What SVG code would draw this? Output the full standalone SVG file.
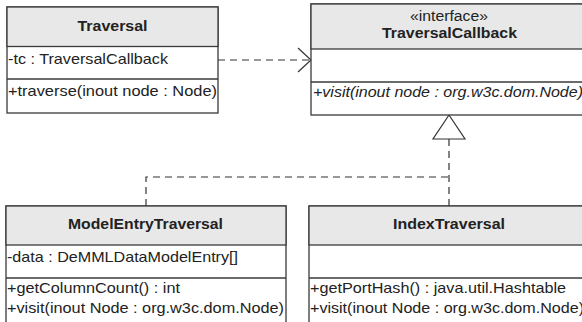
<svg xmlns="http://www.w3.org/2000/svg" width="582" height="322" viewBox="0 0 582 322">
  <style>
    .box { fill: #ffffff; stroke: #3a3a3a; stroke-width: 1.3; }
    .head { fill: #e8e8e8; stroke: #3a3a3a; stroke-width: 1.3; }
    .sep { stroke: #3a3a3a; stroke-width: 1.3; }
    .title { font-family: "Liberation Sans", Arial, sans-serif; font-size: 15px; font-weight: bold; fill: #222; text-anchor: middle; }
    .stereo { font-family: "Liberation Sans", Arial, sans-serif; font-size: 14px; fill: #222; text-anchor: middle; }
    .member { font-family: "Liberation Sans", Arial, sans-serif; font-size: 15px; fill: #222; }
    .abstract { font-style: italic; }
    .dash { fill: none; stroke: #333; stroke-width: 1.2; stroke-dasharray: 7 5; }
    .solid { fill: none; stroke: #333; stroke-width: 1.2; }
  </style>

  <!-- connectors -->
  <g id="connectors">
    <!-- Traversal uses TraversalCallback -->
    <line class="dash" x1="218" y1="60" x2="310" y2="60"/>
    <polyline class="solid" points="298,48 311,60 298,72"/>
    <!-- realizations of TraversalCallback -->
    <path class="dash" d="M449,139 V206 M146,206 V177 H449"/>
    <polygon points="449,115 433,139 465,139" fill="#ffffff" stroke="#333" stroke-width="1.2"/>
  </g>

  <!-- Traversal -->
  <g id="traversal">
    <rect class="box" x="7" y="7" width="211" height="106"/>
    <rect class="head" x="7" y="7" width="211" height="39.5"/>
    <line class="sep" x1="7" y1="79" x2="218" y2="79"/>
    <text class="title" x="112.5" y="31" textLength="70" lengthAdjust="spacingAndGlyphs">Traversal</text>
    <text class="member" x="8" y="64" textLength="160" lengthAdjust="spacingAndGlyphs">-tc : TraversalCallback</text>
    <text class="member" x="8" y="96" textLength="209" lengthAdjust="spacingAndGlyphs">+traverse(inout node : Node)</text>
  </g>

  <!-- TraversalCallback interface -->
  <g id="traversal-callback">
    <rect class="box" x="311" y="4" width="275" height="111"/>
    <rect class="head" x="311" y="4" width="275" height="45"/>
    <line class="sep" x1="311" y1="82" x2="586" y2="82"/>
    <text class="stereo" x="449" y="21" textLength="78" lengthAdjust="spacingAndGlyphs">«interface»</text>
    <text class="title" x="449.5" y="38" textLength="135" lengthAdjust="spacingAndGlyphs">TraversalCallback</text>
    <text class="member abstract" x="313" y="97" textLength="270" lengthAdjust="spacingAndGlyphs">+visit(inout node : org.w3c.dom.Node)</text>
  </g>

  <!-- ModelEntryTraversal -->
  <g id="model-entry-traversal">
    <rect class="box" x="6" y="206" width="280" height="120"/>
    <rect class="head" x="6" y="206" width="280" height="39"/>
    <line class="sep" x1="6" y1="278" x2="286" y2="278"/>
    <text class="title" x="145.5" y="229" textLength="155" lengthAdjust="spacingAndGlyphs">ModelEntryTraversal</text>
    <text class="member" x="7" y="262" textLength="231" lengthAdjust="spacingAndGlyphs">-data : DeMMLDataModelEntry[]</text>
    <text class="member" x="7" y="293" textLength="173" lengthAdjust="spacingAndGlyphs">+getColumnCount() : int</text>
    <text class="member" x="7" y="313" textLength="277" lengthAdjust="spacingAndGlyphs">+visit(inout Node : org.w3c.dom.Node)</text>
  </g>

  <!-- IndexTraversal -->
  <g id="index-traversal">
    <rect class="box" x="309" y="206" width="277" height="120"/>
    <rect class="head" x="309" y="206" width="277" height="39"/>
    <line class="sep" x1="309" y1="278" x2="586" y2="278"/>
    <text class="title" x="449" y="229" textLength="112" lengthAdjust="spacingAndGlyphs">IndexTraversal</text>
    <text class="member" x="310" y="293" textLength="256" lengthAdjust="spacingAndGlyphs">+getPortHash() : java.util.Hashtable</text>
    <text class="member" x="310" y="313" textLength="274" lengthAdjust="spacingAndGlyphs">+visit(inout Node : org.w3c.dom.Node)</text>
  </g>
</svg>
